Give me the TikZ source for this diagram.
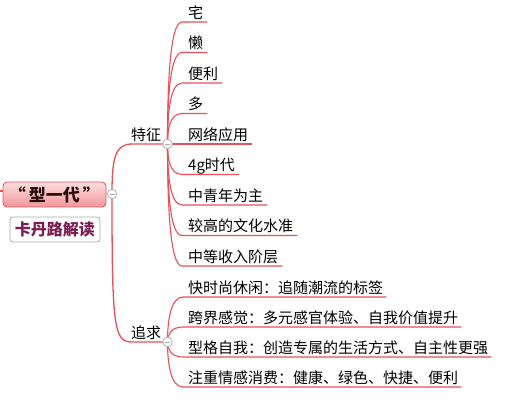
\documentclass[tikz,border=0pt]{standalone}
\usepackage{fontspec}
\newfontfamily\cjk{Noto Sans CJK SC}
\definecolor{branch}{RGB}{234,78,88}
\definecolor{rootfillA}{RGB}{252,222,222}
\definecolor{rootfillB}{RGB}{243,150,156}
\definecolor{rootdraw}{RGB}{226,90,96}
\definecolor{subtxt}{RGB}{122,30,82}
\definecolor{knob}{RGB}{170,170,170}
\begin{document}
\begin{tikzpicture}[x=1pt,y=-1pt,
  conn/.style={draw=branch,line width=1.1pt},
  trunk/.style={draw=branch,line width=1.3pt},
  leaf/.style={font=\cjk\fontsize{15}{15}\selectfont,inner sep=0pt,anchor=base west,text=black},
  knobc/.style={circle,draw=knob,fill=white,line width=0.7pt,minimum size=9.5pt,inner sep=0pt},
  rootbox/.style={draw=rootdraw,line width=0.9pt,rounded corners=4pt,top color=rootfillA,bottom color=rootfillB,minimum width=103pt,minimum height=25pt,inner sep=0pt,font=\cjk\bfseries\fontsize{17}{17}\selectfont,text={rgb,255:red,40;green,10;blue,10}},
  subbox/.style={draw=knob,line width=0.8pt,rounded corners=3pt,fill=white,minimum width=90pt,minimum height=25pt,inner sep=0pt,font=\cjk\bfseries\fontsize{16}{16}\selectfont,text=subtxt}
]
\useasboundingbox (0,0) rectangle (520,409);

% root
\coordinate (lft) at (0,191);
\node[rootbox] (root) at (54.5,194.5) {“\hspace{3pt}型一代\hspace{3pt}”};
\draw[trunk] (lft) -- (root.west |- lft);
\node[subbox] (sub) at (55,229.5) {卡丹路解读};

\coordinate (rk) at (112,194);
\coordinate (tzs) at (132,144);
\coordinate (zqs) at (132,342);
\coordinate (tzk) at (167.5,144);
\coordinate (zqk) at (167.5,342);

\node[leaf] (tz) at (131,140.5) {特征};
\node[leaf] (zq) at (131,338.5) {追求};

\draw[trunk] (rk) .. controls (112,158) and (115,144) .. (tzs) -- (tzk);
\draw[trunk] (rk) .. controls (112,328) and (114,342) .. (zqs) -- (zqk);

% features
\foreach \i/\y/\t in {1/22/宅,2/52.5/懒,3/83/便利,4/113.5/多,5/144/网络应用,6/174.5/4g时代,7/205/中青年为主,8/235.5/较高的文化水准,9/266/中等收入阶层}{
  \coordinate (fs\i) at (182,\y);
  \node[leaf] (f\i) at (188,\y-3.5) {\t};
  \draw[conn] (tzk) .. controls (167.5,{(144+\y)/2}) and (170,\y) .. (fs\i) -- ([xshift=4pt]f\i.east |- fs\i);
}

% pursuits
\foreach \i/\y/\t in {1/297/快时尚休闲：追随潮流的标签,2/327/跨界感觉：多元感官体验、自我价值提升,3/357/型格自我：创造专属的生活方式、自主性更强,4/387/注重情感消费：健康、绿色、快捷、便利}{
  \coordinate (ps\i) at (183,\y);
  \node[leaf] (p\i) at (188,\y-3.5) {\t};
  \draw[conn] (zqk) .. controls (167.5,{(342+\y)/2}) and (171,\y) .. (ps\i) -- ([xshift=3pt]p\i.east |- ps\i);
}

% knobs
\foreach \k in {rk,tzk,zqk}{
  \node[knobc] (n\k) at (\k) {};
  \draw[knob,line width=0.8pt] ([xshift=-2.5pt]n\k.center) -- ([xshift=2.5pt]n\k.center);
}
\end{tikzpicture}
\end{document}
